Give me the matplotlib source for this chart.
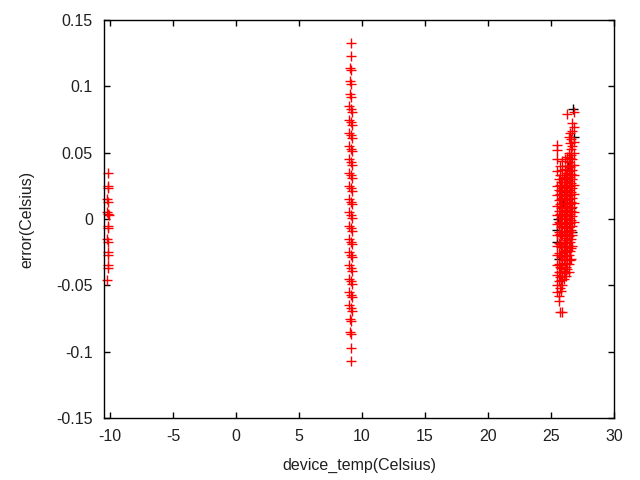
import matplotlib
matplotlib.use("Agg")
import matplotlib.pyplot as plt
import numpy as np

# ---- data ----
# cluster near -10 C
left_x = [-10.2, -10.2, -10.15, -10.25, -10.15, -10.25, -10.2, -10.1,
          -10.2, -10.15, -10.25, -10.15, -10.2, -10.15, -10.2, -10.2, -10.22]
left_y = [0.035, 0.025, 0.023, 0.015, 0.013, 0.005, 0.004, 0.003,
          -0.005, -0.007, -0.015, -0.017, -0.025, -0.027, -0.035, -0.037, -0.046]

# cluster near 9 C
mid_x = [9.15, 9.15, 9.05, 9.15, 9.05, 9.15, 9.05, 9.15,
         9.0, 9.1, 9.2, 9.0, 9.1, 9.2, 9.0, 9.1, 9.2, 9.0, 9.1, 9.2,
         9.0, 9.1, 9.2, 9.0, 9.1, 9.2, 9.0, 9.1, 9.2, 9.0, 9.1, 9.2,
         9.0, 9.1, 9.2, 9.0, 9.1, 9.2, 9.0, 9.1, 9.2, 9.0, 9.1, 9.2,
         9.0, 9.1, 9.2, 9.0, 9.1, 9.2, 9.0, 9.1, 9.2, 9.0, 9.1, 9.2,
         9.05, 9.15, 9.05, 9.15, 9.15, 9.15]
mid_y = [0.133, 0.123, 0.114, 0.112, 0.104, 0.102, 0.094, 0.092,
         0.085, 0.083, 0.081, 0.075, 0.073, 0.071, 0.065, 0.063, 0.061,
         0.055, 0.053, 0.051, 0.045, 0.043, 0.041, 0.035, 0.033, 0.031,
         0.025, 0.023, 0.021, 0.015, 0.013, 0.011, 0.005, 0.003, 0.001,
         -0.005, -0.007, -0.009, -0.015, -0.017, -0.019, -0.025, -0.027, -0.029,
         -0.035, -0.037, -0.039, -0.045, -0.047, -0.049, -0.055, -0.057, -0.059,
         -0.065, -0.067, -0.069, -0.075, -0.077, -0.085, -0.087, -0.097, -0.107]

# cluster near 26 C (columns of temperature with errors)
right_cols_x = [25.5, 25.6, 25.7, 25.8, 25.9, 26.0, 26.1, 26.2, 26.3, 26.4,
                26.5, 26.6, 26.7, 26.8]
right_cols_y = [
    [0.056, 0.052, 0.045, 0.036, 0.025, 0.018, 0.010, 0.003, -0.004, -0.012,
     -0.020, -0.027, -0.035, -0.042, -0.050, -0.055],
    [0.030, 0.022, 0.014, 0.006, -0.002, -0.010, -0.018, -0.026, -0.034,
     -0.040, -0.047, -0.058, -0.062],
    [0.040, 0.033, 0.026, 0.019, 0.011, 0.004, -0.003, -0.011, -0.019,
     -0.027, -0.036, -0.044, -0.052, -0.070],
    [0.028, 0.021, 0.015, 0.008, 0.001, -0.006, -0.013, -0.021, -0.029,
     -0.037, -0.046, -0.054],
    [0.044, 0.037, 0.030, 0.023, 0.016, 0.009, 0.002, -0.005, -0.012,
     -0.020, -0.028, -0.035, -0.043, -0.050, -0.070],
    [0.032, 0.025, 0.018, 0.011, 0.004, -0.003, -0.010, -0.017, -0.024,
     -0.031, -0.039, -0.045],
    [0.045, 0.038, 0.031, 0.024, 0.017, 0.010, 0.003, -0.004, -0.011,
     -0.018, -0.025, -0.033, -0.041],
    [0.035, 0.028, 0.021, 0.014, 0.007, 0.000, -0.007, -0.014, -0.021,
     -0.028, -0.036, -0.043],
    [0.079, 0.047, 0.040, 0.033, 0.026, 0.019, 0.012, 0.005, -0.002,
     -0.009, -0.016, -0.023, -0.030, -0.038],
    [0.062, 0.050, 0.043, 0.036, 0.029, 0.022, 0.015, 0.008, 0.001,
     -0.006, -0.013, -0.020, -0.027, -0.034, -0.040],
    [0.065, 0.057, 0.046, 0.039, 0.032, 0.025, 0.018, 0.011, 0.004,
     -0.003, -0.010, -0.017, -0.024, -0.031],
    [0.060, 0.053, 0.048, 0.041, 0.034, 0.027, 0.020, 0.013, 0.006,
     -0.001, -0.008, -0.015, -0.022, -0.030],
    [0.072, 0.066, 0.055, 0.045, 0.037, 0.030, 0.023, 0.016, 0.009,
     0.002, -0.005, -0.012, -0.020],
    [0.081, 0.069, 0.058, 0.050, 0.041, 0.033, 0.026, 0.019, 0.012,
     0.005, -0.002],
]

# second (black) series, mostly hidden under the red one
black_x = [25.5, 25.5, 25.55, 25.6, 25.95, 26.05,
           26.25, 26.55, 26.75, 26.85, 26.65, 26.35, 25.75, 26.15]
black_y = [-0.008, -0.017, 0.000, -0.030, 0.012,
           -0.020, 0.030, 0.008, 0.083, 0.062, -0.010, 0.040, -0.040, 0.020]

xticks = [-10, -5, 0, 5, 10, 15, 20, 25, 30]
yticks = [-0.15, -0.1, -0.05, 0, 0.05, 0.1, 0.15]
ytick_labels = ["-0.15", "-0.1", "-0.05", "0", "0.05", "0.1", "0.15"]

# ---- plot ----
plt.rcParams['font.family'] = ['Liberation Sans', 'DejaVu Sans']
fig = plt.figure(figsize=(6.4, 4.8), dpi=100)
ax = fig.add_axes([104 / 640, 1 - 418 / 480, (614 - 104) / 640, (418 - 20) / 480])

right_x = []
right_y = []
for cx, cy in zip(right_cols_x, right_cols_y):
    right_x += [cx] * len(cy)
    right_y += cy

mk = dict(marker='+', linestyle='none', markersize=7, markeredgewidth=1.0, clip_on=False)
ax.plot(black_x, black_y, color='black', **mk)
ax.plot(left_x, left_y, color='red', **mk)
ax.plot(mid_x, mid_y, color='red', **mk)
ax.plot(right_x, right_y, color='red', **mk)

ax.set_xlim(-10.48, 30)
ax.set_ylim(-0.15, 0.15)
ax.set_xticks(xticks)
ax.set_xticklabels([str(t) for t in xticks])
ax.set_yticks(yticks)
ax.set_yticklabels(ytick_labels)
ax.tick_params(direction='in', length=4, width=1, top=True, right=True,
               labelsize=11.5, pad=8, labelcolor='#202020')
for s in ax.spines.values():
    s.set_linewidth(1)
ax.set_xlabel('device_temp(Celsius)', fontsize=11.5, labelpad=10, color='#202020')
ax.set_ylabel('error(Celsius)', fontsize=11.5, labelpad=16, color='#202020')

fig.savefig('out.png', dpi=100)
